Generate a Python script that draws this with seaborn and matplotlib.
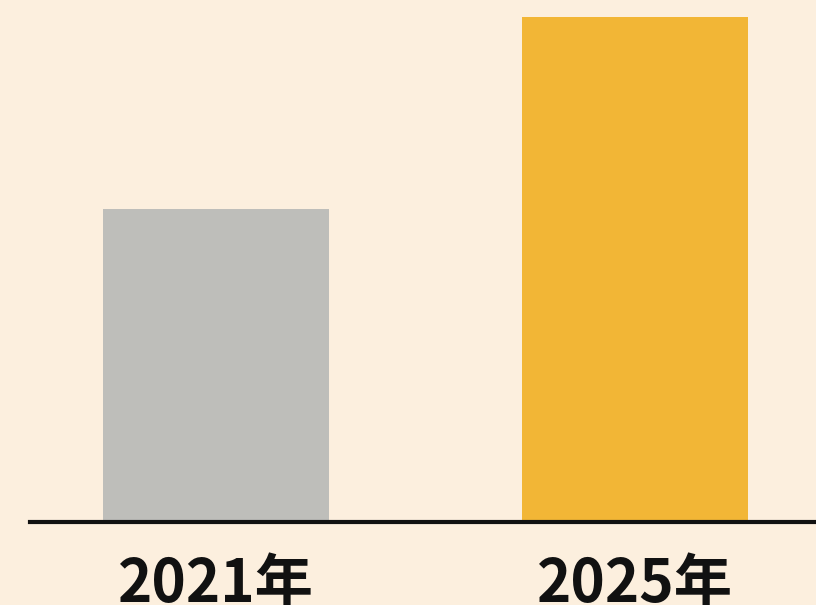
import matplotlib
matplotlib.use("Agg")
import matplotlib.pyplot as plt
import seaborn as sns
import pandas as pd

years = ["2021年", "2025年"]
values = [62, 100]
colors = ["#BEBEBA", "#F2B636"]

sns.set_theme(style="white")
plt.rcParams['font.family'] = ['Noto Sans CJK SC', 'DejaVu Sans']

bg = "#FCEFDE"
fig = plt.figure(figsize=(8.16, 6.05), dpi=100, facecolor=bg)
ax = fig.add_axes([30/816, (605-522)/605, 786/816, 522/605])
ax.set_facecolor(bg)

df = pd.DataFrame({"year": years, "value": values})
sns.barplot(data=df, x="year", y="value", hue="year", palette=colors,
            width=0.54, legend=False, ax=ax, saturation=1, linewidth=0)

ax.set_xlim(-0.444, 1.432)
ax.set_ylim(0, 100 * 522 / 505)
for s in ["top", "right", "left"]:
    ax.spines[s].set_visible(False)
ax.spines["bottom"].set_linewidth(3)
ax.spines["bottom"].set_color("#111111")
ax.set_yticks([])
ax.set_xlabel("")
ax.set_ylabel("")
ax.tick_params(axis="x", length=0, pad=24)
for lbl in ax.get_xticklabels():
    lbl.set_fontsize(42)
    lbl.set_fontweight("bold")
    lbl.set_color("#111111")

fig.savefig("out.png", dpi=100, facecolor=bg)
